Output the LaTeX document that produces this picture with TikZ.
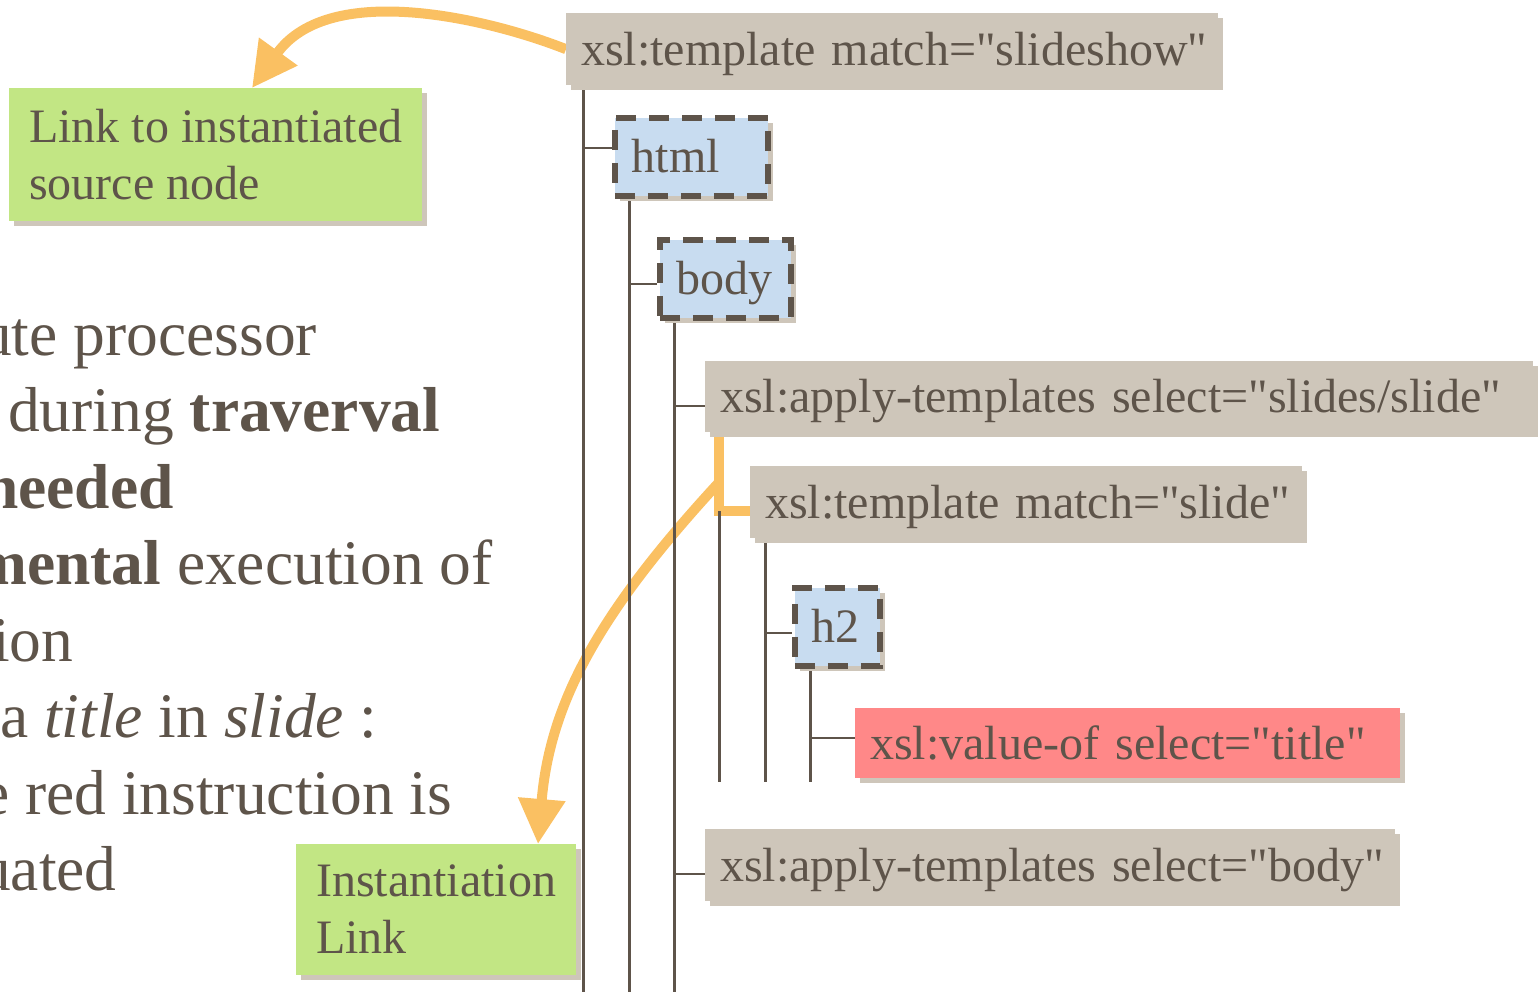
\documentclass[tikz,border=0pt]{standalone}
\usepackage{fontspec}
\setmainfont{Liberation Serif}[Ligatures=TeXOff]
\usetikzlibrary{arrows.meta, positioning, calc, shadows, backgrounds}
\definecolor{inktext}{RGB}{94,84,74}
\definecolor{xsltan}{RGB}{206,198,186}
\definecolor{htmlblue}{RGB}{200,220,240}
\definecolor{notegreen}{RGB}{194,230,132}
\definecolor{evalred}{RGB}{255,136,136}
\definecolor{linkorange}{RGB}{250,192,98}

\begin{document}
\begin{tikzpicture}[x=1pt, y=-1pt,
  every node/.style={text=inktext},
  shade/.style={drop shadow={shadow xshift=5pt, shadow yshift=-5pt, fill=xsltan, opacity=1}},
  treebox/.style={anchor=north west, inner ysep=0pt, shade, align=left, font=\fontsize{48}{57.6}\selectfont, text height=38pt, text depth=6pt, text width=#1},
  xslbox/.style={treebox=#1, fill=xsltan, inner xsep=15pt, minimum height=72pt},
  htmlbox/.style={treebox=#1, fill=htmlblue, draw=inktext, line width=5.5pt, dash pattern=on 20pt off 13pt, inner xsep=17pt, minimum height=78pt},
  note/.style={anchor=north west, fill=notegreen, shade, inner xsep=20pt, inner ysep=21pt, align=left, font=\fontsize{48}{57}\selectfont},
  prose/.style={anchor=base west, inner sep=0pt, font=\fontsize{63.5}{76.5}\selectfont},
  tree/.style={draw=inktext, line width=3pt},
  twig/.style={draw=inktext, line width=2pt},
  fork/.style={draw=linkorange, line width=10pt},
  link/.style={draw=linkorange, line width=10pt, -{Triangle[length=45pt, width=45pt]}}]
\useasboundingbox (0,0) rectangle (1538,991);

% Prose on the left (cut by the frame)
\node[prose] (txt1) at (-20,355) {ute processor};
\node[prose] (txt2) at (8,431.5) {during \textbf{traverval}};
\node[prose] (txt3) at (-17,508) {\textbf{needed}};
\node[prose] (txt4) at (-26,584.5) {\textbf{mental} execution of};
\node[prose] (txt5) at (-8,661) {ion};
\node[prose] (txt6) at (0,737.5) {a \textit{title} in \textit{slide} :};
\node[prose] (txt7) at (-19,814) {e red instruction is};
\node[prose] (txt8) at (-21,890.5) {uated};

% Notes
\node[note] (src) at (9,88) {Link to instantiated\\source node};
\node[note] (inst) at (296,844) {Instantiation\\Link};

% Template tree
\node[xslbox=622pt] (tss) at (566,13) {\mbox{xsl:template match="slideshow"}};
\node[htmlbox=119pt] (html) at (612,115) {html};
\node[htmlbox=97pt] (body) at (657,237) {body};
\node[xslbox=798pt, minimum height=71pt] (aps) at (705,361) {\mbox{xsl:apply-templates select="slides/slide"}};
\node[xslbox=522pt] (tsl) at (750,466) {\mbox{xsl:template match="slide"}};
\node[htmlbox=51pt] (htwo) at (792,585) {h2};
\node[xslbox=515pt, fill=evalred, minimum height=70pt] (valof) at (855,708) {\mbox{xsl:value-of select="title"}};
\node[xslbox=660pt] (apb) at (705,829) {\mbox{xsl:apply-templates select="body"}};

% Trunk tops, entry points and free ends
\coordinate (floor) at (0,1000);
\coordinate (inner) at (0,782);
\coordinate (t0) at ([xshift=17pt]tss.south west);
\coordinate (t1) at ([xshift=17pt]html.south west);
\coordinate (t2) at ([xshift=17pt]body.south west);
\coordinate (t3) at ([xshift=14pt]aps.south west);
\coordinate (t4) at ([xshift=15pt]tsl.south west);
\coordinate (t5) at ([xshift=18pt]htwo.south west);
\coordinate (htmlin) at ([yshift=9pt]html.west);
\coordinate (bodyin) at ([yshift=-5pt]body.west);
\coordinate (apsin) at ([yshift=-9pt]aps.west);
\coordinate (tslin) at ([yshift=-9pt]tsl.west);
\coordinate (htwoin) at ([yshift=-6pt]htwo.west);
\coordinate (valofin) at ([yshift=5pt]valof.west);
\coordinate (apbin) at ([yshift=-9pt]apb.west);
\coordinate (split) at ([yshift=-50pt]t3);
\coordinate (srcin) at ([xshift=243pt]src.north west);
\coordinate (instin) at ([xshift=242pt]inst.north west);

\begin{pgfonlayer}{background}
% Instantiation links
\draw[fork] (t3) |- (tslin);
\draw[link] (split) .. controls +(-118,128) and +(12,-143) .. (instin);
\draw[link] (tss.west) .. controls +(-76,-30) and +(78,-108) .. (srcin);

% Tree lines
\draw[tree] (t0) -- (t0 |- floor);
\draw[tree] (t1) -- (t1 |- floor);
\draw[tree] (t2) -- (t2 |- floor);
\draw[tree] (t3 |- tslin) -- (t3 |- inner);
\draw[tree] (t4) -- (t4 |- inner);
\draw[tree] (t5) -- (t5 |- inner);
\draw[twig] (t0 |- htmlin) -- (htmlin);
\draw[twig] (t1 |- bodyin) -- (bodyin);
\draw[twig] (t2 |- apsin) -- (apsin);
\draw[twig] (t2 |- apbin) -- (apbin);
\draw[twig] (t4 |- htwoin) -- (htwoin);
\draw[twig] (t5 |- valofin) -- (valofin);
\end{pgfonlayer}
\end{tikzpicture}
\end{document}
